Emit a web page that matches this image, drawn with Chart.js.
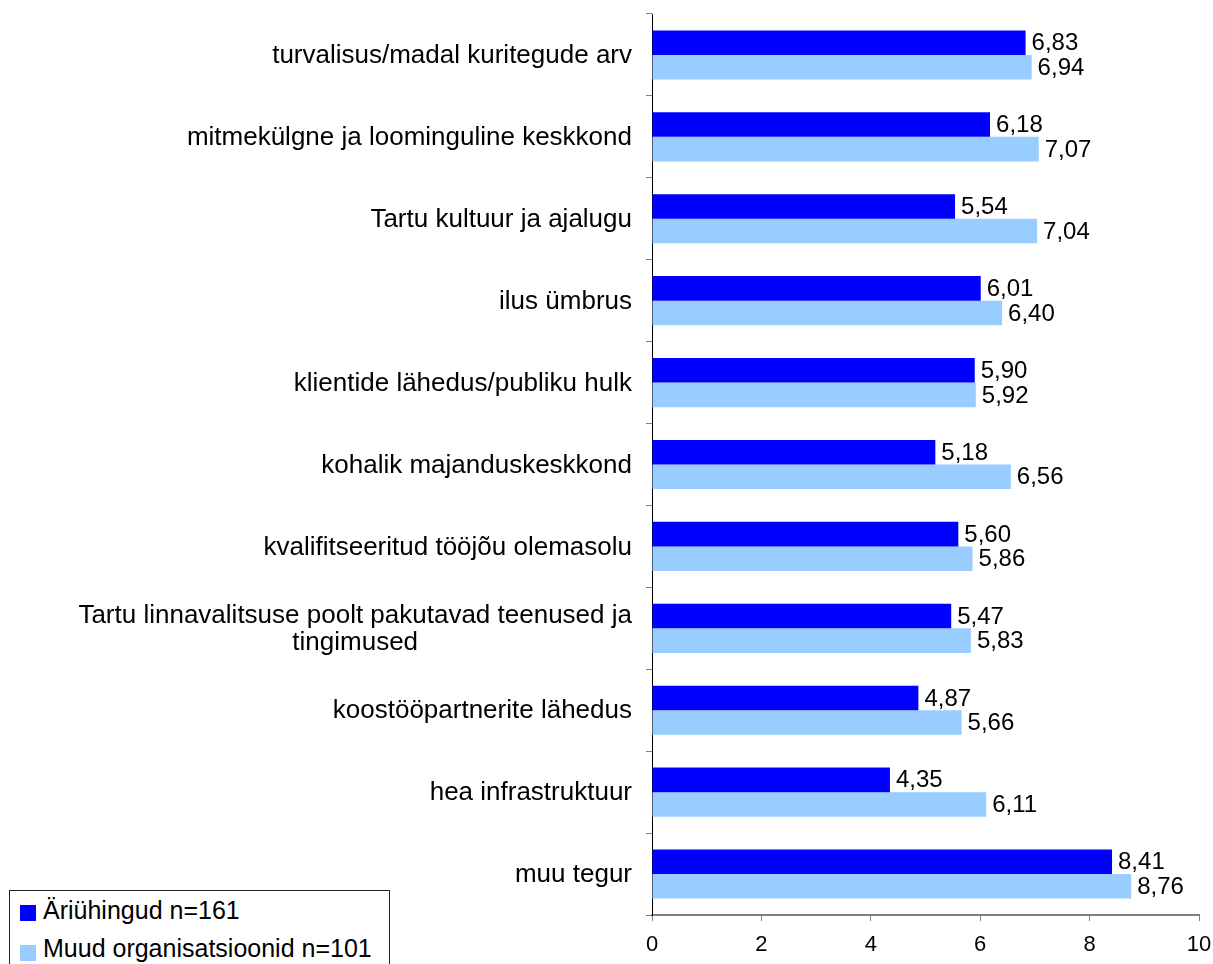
<!DOCTYPE html>
<html>
<head>
<meta charset="utf-8">
<script src="https://cdn.jsdelivr.net/npm/chart.js@4/dist/chart.umd.min.js"></script>
<style>
  body { margin: 0; background: #fff; }
  #wrap { position: relative; width: 1213px; height: 964px; overflow: hidden; }
  #legend {
    position: absolute; left: 9px; top: 890px; width: 379px; height: 90px;
    border: 1px solid #222; background: #fff;
    font-family: "Liberation Sans", Arial, sans-serif; font-size: 25px; color: #000;
  }
  .sw { position: absolute; left: 10px; width: 16px; height: 16px; }
  .txt { position: absolute; left: 33px; height: 26px; line-height: 26px; white-space: nowrap; }
</style>
</head>
<body>
<div id="wrap">
  <canvas id="chart" width="1213" height="964"></canvas>
  <div id="legend">
    <span class="sw" style="top:14px;background:#0000ff"></span>
    <span class="txt" style="top:6px">Äriühingud n=161</span>
    <span class="sw" style="top:54px;background:#99ccff"></span>
    <span class="txt" style="top:44px">Muud organisatsioonid n=101</span>
  </div>
</div>
<script>
// categories, top to bottom
const categories = [
    "turvalisus/madal kuritegude arv",
    "mitmekülgne ja loominguline keskkond",
    "Tartu kultuur ja ajalugu",
    "ilus ümbrus",
    "klientide lähedus/publiku hulk",
    "kohalik majanduskeskkond",
    "kvalifitseeritud tööjõu olemasolu",
    ["Tartu linnavalitsuse poolt pakutavad teenused ja", "tingimused"],
    "koostööpartnerite lähedus",
    "hea infrastruktuur",
    "muu tegur"
];
const seriesNames = ["Äriühingud n=161", "Muud organisatsioonid n=101"];
const firmValues = [6.83, 6.18, 5.54, 6.01, 5.90, 5.18, 5.60, 5.47, 4.87, 4.35, 8.41];
const otherValues = [6.94, 7.07, 7.04, 6.40, 5.92, 6.56, 5.86, 5.83, 5.66, 6.11, 8.76];
const xTicks = [0, 2, 4, 6, 8, 10];

const FONT = '"Liberation Sans", Arial, sans-serif';

// value labels right of each bar, comma decimals
const valueLabels = {
    id: "valueLabels",
    afterDatasetsDraw(chart) {
        const ctx = chart.ctx;
        ctx.save();
        ctx.font = "24px " + FONT;
        ctx.fillStyle = "#000";
        ctx.textAlign = "left";
        ctx.textBaseline = "middle";
        chart.data.datasets.forEach((ds, di) => {
            chart.getDatasetMeta(di).data.forEach((bar, i) => {
                const txt = ds.data[i].toFixed(2).replace(".", ",");
                ctx.fillText(txt, bar.x + 6, bar.y + 1);
            });
        });
        ctx.restore();
    }
};

// category labels: block right-aligned, lines centered inside block
const categoryLabels = {
    id: "categoryLabels",
    afterDraw(chart) {
        const ctx = chart.ctx;
        const y = chart.scales.y;
        const right = y.right - 20;
        const lineH = 27;
        ctx.save();
        ctx.font = "26px " + FONT;
        ctx.fillStyle = "#000";
        ctx.textAlign = "center";
        ctx.textBaseline = "middle";
        categories.forEach((lab, i) => {
            const lines = Array.isArray(lab) ? lab : [lab];
            const w = Math.max(...lines.map(l => ctx.measureText(l).width));
            const cy = y.getPixelForValue(i);
            const y0 = cy - (lines.length - 1) * lineH / 2;
            lines.forEach((l, k) => ctx.fillText(l, right - w / 2, y0 + k * lineH + 1));
        });
        ctx.restore();
    }
};

new Chart(document.getElementById("chart"), {
    type: "bar",
    data: {
        labels: categories,
        datasets: [
            { label: seriesNames[0], data: firmValues, backgroundColor: "#0000ff",
              categoryPercentage: 0.6, barPercentage: 1.0 },
            { label: seriesNames[1], data: otherValues, backgroundColor: "#99ccff",
              categoryPercentage: 0.6, barPercentage: 1.0 }
        ]
    },
    options: {
        indexAxis: "y",
        responsive: false,
        animation: false,
        layout: { padding: { top: 14, right: 0, left: 0, bottom: 0 } },
        plugins: { legend: { display: false }, tooltip: { enabled: false } },
        scales: {
            x: {
                min: 0, max: 10,
                afterBuildTicks: s => { s.ticks = xTicks.map(v => ({ value: v })); },
                afterFit: s => { s.height = 49; s.paddingRight = 14; },
                grid: { drawOnChartArea: false, tickLength: 6, color: "#808080" },
                border: { color: "#808080", width: 2 },
                ticks: { color: "#000", font: { family: FONT, size: 22 }, padding: 11 }
            },
            y: {
                afterFit: s => { s.width = 652; },
                grid: { drawOnChartArea: false, tickLength: 6, color: "#808080" },
                border: { color: "#000" },
                ticks: { display: false }
            }
        }
    },
    plugins: [valueLabels, categoryLabels]
});
</script>
</body>
</html>
